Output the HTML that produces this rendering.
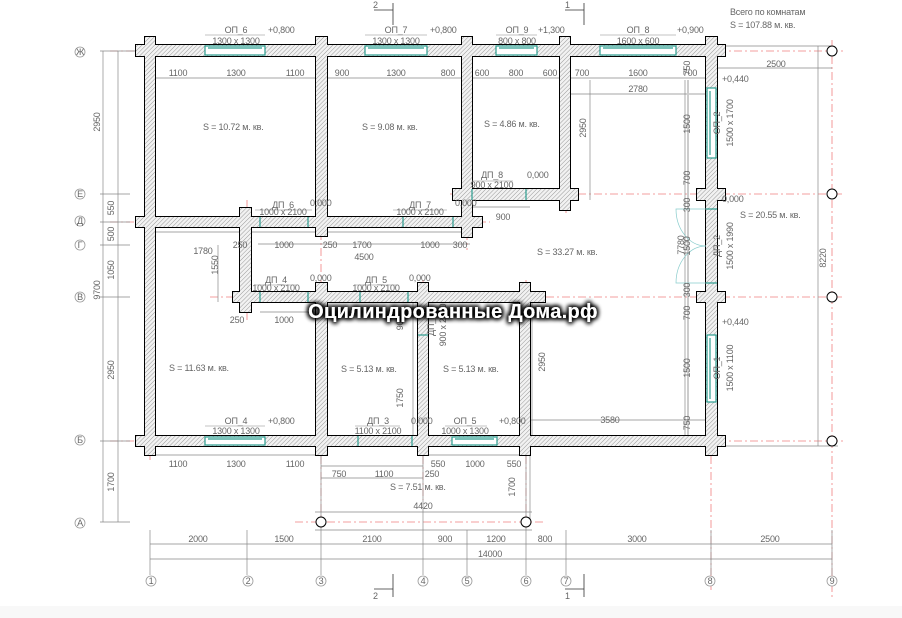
<!DOCTYPE html>
<html><head><meta charset="utf-8"><style>
html,body{margin:0;padding:0;background:#fff;}
svg{display:block;}
text{font-family:"Liberation Sans","DejaVu Sans",sans-serif;fill:#666;font-size:9px;letter-spacing:-0.2px;}
.wm{font-size:20px;font-weight:bold;fill:#fff;letter-spacing:0.3px;}
</style></head><body>
<svg width="902" height="618" viewBox="0 0 902 618" xmlns="http://www.w3.org/2000/svg">
<defs>
<pattern id="h" width="3" height="3" patternUnits="userSpaceOnUse" patternTransform="rotate(45)">
<rect width="3" height="3" fill="#f2f2f2"/><line x1="0" y1="0" x2="0" y2="3" stroke="#999" stroke-width="1"/>
</pattern>
<filter id="sh" x="-10%" y="-60%" width="120%" height="220%">
<feMorphology in="SourceAlpha" operator="dilate" radius="1" result="d"/>
<feGaussianBlur in="d" stdDeviation="2.5" result="b"/>
<feFlood flood-color="#000" flood-opacity="1"/><feComposite in2="b" operator="in" result="s"/>
<feMerge><feMergeNode in="s"/><feMergeNode in="s"/><feMergeNode in="SourceGraphic"/></feMerge>
</filter>
</defs>
<rect width="902" height="618" fill="#fff"/>
<rect y="606" width="902" height="12" fill="#f8f8f8"/>

<g stroke="#f08080" stroke-width="0.8" stroke-dasharray="8,3,2,3" fill="none">
<line x1="110" y1="51" x2="845" y2="51"/>
<line x1="450" y1="194" x2="845" y2="194"/>
<line x1="110" y1="222" x2="490" y2="222"/>
<line x1="210" y1="297" x2="845" y2="297"/>
<line x1="110" y1="441" x2="845" y2="441"/>
<line x1="295" y1="522" x2="545" y2="522"/>
<line x1="150" y1="40" x2="150" y2="460"/>
<line x1="247" y1="200" x2="247" y2="320"/>
<line x1="321" y1="40" x2="321" y2="530"/>
<line x1="423" y1="280" x2="423" y2="500"/>
<line x1="467" y1="40" x2="467" y2="250"/>
<line x1="526" y1="280" x2="526" y2="530"/>
<line x1="566" y1="40" x2="566" y2="215"/>
<line x1="711" y1="40" x2="711" y2="590"/>
<line x1="832" y1="40" x2="832" y2="600"/>
</g>

<g stroke="#888" stroke-width="0.7" fill="none">
<line x1="150" y1="78" x2="711" y2="78"/>
<line x1="566" y1="94" x2="711" y2="94"/>
<line x1="711" y1="68" x2="832" y2="68"/>
<line x1="711" y1="46" x2="832" y2="46"/>
<line x1="590" y1="80" x2="590" y2="200"/>
<line x1="118" y1="51" x2="118" y2="522"/>
<line x1="103" y1="51" x2="103" y2="522"/>
<line x1="100" y1="51" x2="150" y2="51"/><line x1="100" y1="194" x2="130" y2="194"/>
<line x1="100" y1="222" x2="130" y2="222"/><line x1="100" y1="245" x2="130" y2="245"/>
<line x1="100" y1="297" x2="130" y2="297"/><line x1="100" y1="441" x2="130" y2="441"/>
<line x1="100" y1="522" x2="130" y2="522"/>
<line x1="818" y1="46" x2="818" y2="446"/>
<line x1="711" y1="446" x2="838" y2="446"/>
<line x1="685" y1="80" x2="685" y2="436"/>
<line x1="688" y1="80" x2="688" y2="436" stroke="#ccc" stroke-width="2"/>
<line x1="150" y1="455" x2="321" y2="455"/><line x1="423" y1="455" x2="526" y2="455"/>
<line x1="321" y1="478" x2="423" y2="478"/>
<line x1="315" y1="512" x2="532" y2="512"/>
<line x1="315" y1="530" x2="532" y2="530"/>
<line x1="150" y1="544" x2="832" y2="544"/>
<line x1="150" y1="559" x2="832" y2="559"/>
<line x1="150" y1="530" x2="150" y2="575"/><line x1="247" y1="530" x2="247" y2="575"/>
<line x1="321" y1="455" x2="321" y2="575"/><line x1="423" y1="455" x2="423" y2="575"/>
<line x1="467" y1="530" x2="467" y2="575"/><line x1="526" y1="455" x2="526" y2="575"/>
<line x1="566" y1="530" x2="566" y2="575"/><line x1="711" y1="530" x2="711" y2="575"/>
<line x1="832" y1="530" x2="832" y2="575"/>
<line x1="155" y1="232" x2="470" y2="232"/>
<line x1="258" y1="244" x2="470" y2="244"/>
<line x1="260" y1="312" x2="418" y2="312"/>
<line x1="470" y1="207" x2="530" y2="207"/>
<line x1="530" y1="420" x2="706" y2="420"/>
<line x1="413" y1="302" x2="413" y2="436"/>
<line x1="532" y1="302" x2="532" y2="436"/>
<line x1="218" y1="245" x2="218" y2="302"/>
<line x1="321" y1="466" x2="423" y2="466"/>
<line x1="530" y1="455" x2="530" y2="520"/>
</g>

<g fill="#000" stroke="#000" stroke-width="2">
<rect x="136" y="45" width="589" height="11"/>
<rect x="453" y="189" width="125" height="11"/>
<rect x="136" y="217" width="346" height="10"/>
<rect x="233" y="292" width="312" height="10"/>
<rect x="136" y="436" width="589" height="10"/>
<rect x="145" y="37" width="10" height="418"/>
<rect x="316" y="37" width="11" height="199"/>
<rect x="316" y="283" width="11" height="172"/>
<rect x="462" y="37" width="10" height="200"/>
<rect x="560" y="37" width="10" height="173"/>
<rect x="706" y="37" width="11" height="418"/>
<rect x="240" y="208" width="11" height="104"/>
<rect x="418" y="283" width="10" height="172"/>
<rect x="520" y="283" width="10" height="172"/>
<rect x="697" y="189" width="28" height="11"/>
<rect x="697" y="292" width="28" height="10"/>
</g>
<g fill="url(#h)">
<rect x="136" y="45" width="589" height="11"/>
<rect x="453" y="189" width="125" height="11"/>
<rect x="136" y="217" width="346" height="10"/>
<rect x="233" y="292" width="312" height="10"/>
<rect x="136" y="436" width="589" height="10"/>
<rect x="145" y="37" width="10" height="418"/>
<rect x="316" y="37" width="11" height="199"/>
<rect x="316" y="283" width="11" height="172"/>
<rect x="462" y="37" width="10" height="200"/>
<rect x="560" y="37" width="10" height="173"/>
<rect x="706" y="37" width="11" height="418"/>
<rect x="240" y="208" width="11" height="104"/>
<rect x="418" y="283" width="10" height="172"/>
<rect x="520" y="283" width="10" height="172"/>
<rect x="697" y="189" width="28" height="11"/>
<rect x="697" y="292" width="28" height="10"/>
</g>

<g fill="#fff" stroke="#2a9d8f" stroke-width="1.2">
<rect x="205" y="46" width="60" height="9"/>
<rect x="365" y="46" width="62" height="9"/>
<rect x="496" y="46" width="41" height="9"/>
<rect x="600" y="46" width="76" height="9"/>
<rect x="205" y="437" width="60" height="8"/>
<rect x="452" y="437" width="45" height="8"/>
<rect x="707" y="88" width="9" height="70"/>
<rect x="707" y="335" width="9" height="67"/>
</g>
<g stroke="#2a9d8f" stroke-width="1.2">
<line x1="208" y1="48" x2="262" y2="48"/><line x1="368" y1="48" x2="424" y2="48"/>
<line x1="499" y1="48" x2="534" y2="48"/><line x1="603" y1="48" x2="673" y2="48"/>
<line x1="208" y1="439" x2="262" y2="439"/><line x1="455" y1="439" x2="494" y2="439"/>
<line x1="710" y1="91" x2="710" y2="155"/><line x1="710" y1="338" x2="710" y2="399"/>
<line x1="260" y1="217" x2="260" y2="227"/><line x1="308" y1="217" x2="308" y2="227"/>
<line x1="403" y1="217" x2="403" y2="227"/><line x1="453" y1="217" x2="453" y2="227"/>
<line x1="472" y1="189" x2="472" y2="200"/><line x1="526" y1="189" x2="526" y2="200"/>
<line x1="260" y1="292" x2="260" y2="302"/><line x1="308" y1="292" x2="308" y2="302"/>
<line x1="360" y1="292" x2="360" y2="302"/><line x1="408" y1="292" x2="408" y2="302"/>
<line x1="358" y1="436" x2="358" y2="446"/><line x1="412" y1="436" x2="412" y2="446"/>
<line x1="418" y1="335" x2="428" y2="335"/>
<line x1="706" y1="209" x2="717" y2="209"/><line x1="706" y1="283" x2="717" y2="283"/>
</g>
<g stroke="#8cc" stroke-width="0.7" fill="none">
<path d="M706 209 L676 209 A30 37 0 0 0 706 246"/>
<path d="M706 283 L676 283 A30 37 0 0 1 706 246"/>
</g>

<g fill="#fff" stroke="#000" stroke-width="1">
<circle cx="832" cy="51" r="5"/><circle cx="832" cy="194" r="5"/>
<circle cx="832" cy="297" r="5"/><circle cx="832" cy="441" r="5"/>
<circle cx="321" cy="522" r="5"/><circle cx="526" cy="522" r="5"/>
</g>
<g fill="#fff" stroke="#999" stroke-width="0.8">
<circle cx="80" cy="52" r="5"/><circle cx="80" cy="194" r="5"/><circle cx="80" cy="221" r="5"/>
<circle cx="80" cy="245" r="5"/><circle cx="80" cy="297" r="5"/><circle cx="80" cy="440" r="5"/>
<circle cx="80" cy="523" r="5"/>
<circle cx="151" cy="581" r="5"/><circle cx="248" cy="581" r="5"/><circle cx="321" cy="581" r="5"/>
<circle cx="423" cy="581" r="5"/><circle cx="467" cy="581" r="5"/><circle cx="526" cy="581" r="5"/>
<circle cx="566" cy="581" r="5"/><circle cx="710" cy="581" r="5"/><circle cx="832" cy="581" r="5"/>
</g>
<g text-anchor="middle" style="font-size:7px">
<text x="80" y="55">Ж</text><text x="80" y="197">Е</text><text x="80" y="224">Д</text>
<text x="80" y="248">Г</text><text x="80" y="300">В</text><text x="80" y="443">Б</text><text x="80" y="526">А</text>
<text x="151" y="584">1</text><text x="248" y="584">2</text><text x="321" y="584">3</text>
<text x="423" y="584">4</text><text x="467" y="584">5</text><text x="526" y="584">6</text>
<text x="566" y="584">7</text><text x="710" y="584">8</text><text x="832" y="584">9</text>
</g>

<g stroke="#333" stroke-width="0.8">
<line x1="393" y1="3" x2="393" y2="25"/><line x1="374" y1="10" x2="393" y2="10"/>
<line x1="584" y1="3" x2="584" y2="25"/><line x1="565" y1="10" x2="584" y2="10"/>
<line x1="393" y1="574" x2="393" y2="597"/><line x1="374" y1="589" x2="393" y2="589"/>
<line x1="584" y1="574" x2="584" y2="597"/><line x1="565" y1="589" x2="584" y2="589"/>
</g>
<text x="373" y="8">2</text><text x="565" y="8">1</text>
<text x="373" y="599">2</text><text x="565" y="599">1</text>

<g text-anchor="middle">
<text x="178" y="76">1100</text><text x="236" y="76">1300</text><text x="295" y="76">1100</text>
<text x="342" y="76">900</text><text x="396" y="76">1300</text><text x="448" y="76">800</text>
<text x="482" y="76">600</text><text x="516" y="76">800</text><text x="550" y="76">600</text>
<text x="582" y="76">700</text><text x="638" y="76">1600</text><text x="690" y="76">700</text>
<text x="776" y="67">2500</text><text x="638" y="92">2780</text>
<text x="203" y="254">1780</text><text x="240" y="248">250</text><text x="284" y="248">1000</text>
<text x="330" y="248">250</text><text x="362" y="248">1700</text><text x="430" y="248">1000</text><text x="460" y="248">300</text>
<text x="364" y="260">4500</text><text x="503" y="220">900</text>
<text x="237" y="323">250</text><text x="284" y="323">1000</text>
<text x="610" y="423">3580</text>
<text x="178" y="467">1100</text><text x="236" y="467">1300</text><text x="295" y="467">1100</text>
<text x="339" y="477">750</text><text x="384" y="477">1100</text><text x="432" y="477">250</text>
<text x="438" y="467">550</text><text x="475" y="467">1000</text><text x="514" y="467">550</text>
<text x="423" y="509">4420</text>
<text x="198" y="542">2000</text><text x="284" y="542">1500</text><text x="372" y="542">2100</text>
<text x="445" y="542">900</text><text x="496" y="542">1200</text><text x="545" y="542">800</text>
<text x="637" y="542">3000</text><text x="770" y="542">2500</text><text x="490" y="557">14000</text>
</g>
<g text-anchor="middle">
<text transform="translate(100,122) rotate(-90)">2950</text>
<text transform="translate(114,208) rotate(-90)">550</text>
<text transform="translate(114,234) rotate(-90)">500</text>
<text transform="translate(114,270) rotate(-90)">1050</text>
<text transform="translate(100,290) rotate(-90)">9700</text>
<text transform="translate(114,370) rotate(-90)">2950</text>
<text transform="translate(114,482) rotate(-90)">1700</text>
<text transform="translate(218,265) rotate(-90)">1550</text>
<text transform="translate(586,128) rotate(-90)">2950</text>
<text transform="translate(545,362) rotate(-90)">2950</text>
<text transform="translate(403,323) rotate(-90)">900</text>
<text transform="translate(403,398) rotate(-90)">1750</text>
<text transform="translate(515,487) rotate(-90)">1700</text>
<text transform="translate(684,245) rotate(-90)">7780</text>
<text transform="translate(690,124) rotate(-90)">1500</text>
<text transform="translate(690,178) rotate(-90)">700</text>
<text transform="translate(690,205) rotate(-90)">300</text>
<text transform="translate(690,246) rotate(-90)">1500</text>
<text transform="translate(690,290) rotate(-90)">300</text>
<text transform="translate(690,313) rotate(-90)">700</text>
<text transform="translate(690,368) rotate(-90)">1500</text>
<text transform="translate(690,423) rotate(-90)">750</text>
<text transform="translate(690,68) rotate(-90)">750</text>
<text transform="translate(826,258) rotate(-90)">8220</text>
<text transform="translate(720,123) rotate(-90)">ОП_2</text>
<text transform="translate(733,123) rotate(-90)">1500 x 1700</text>
<text transform="translate(720,246) rotate(-90)">ДП_2</text>
<text transform="translate(733,246) rotate(-90)">1500 x 1990</text>
<text transform="translate(720,368) rotate(-90)">ОП_1</text>
<text transform="translate(733,368) rotate(-90)">1500 x 1100</text>
<text transform="translate(434,325) rotate(-90)">ДП_1</text>
<text transform="translate(446,325) rotate(-90)">900 x 2100</text>
</g>

<g text-anchor="middle">
<text x="236" y="33">ОП_6</text><text x="236" y="44">1300 x 1300</text>
<text x="396" y="33">ОП_7</text><text x="396" y="44">1300 x 1300</text>
<text x="517" y="33">ОП_9</text><text x="517" y="44">800 x 800</text>
<text x="638" y="33">ОП_8</text><text x="638" y="44">1600 x 600</text>
<text x="283" y="208">ДП_6</text><text x="283" y="215">1000 x 2100</text>
<text x="420" y="208">ДП_7</text><text x="420" y="215">1000 x 2100</text>
<text x="492" y="178">ДП_8</text><text x="492" y="188">900 x 2100</text>
<text x="276" y="283">ДП_4</text><text x="276" y="291">1000 x 2100</text>
<text x="376" y="283">ДП_5</text><text x="376" y="291">1000 x 2100</text>
<text x="236" y="424">ОП_4</text><text x="236" y="434">1300 x 1300</text>
<text x="378" y="424">ДП_3</text><text x="378" y="434">1100 x 2100</text>
<text x="465" y="424">ОП_5</text><text x="465" y="434">1000 x 1300</text>
</g>
<g>
<text x="268" y="33">+0,800</text><text x="430" y="33">+0,800</text><text x="538" y="33">+1,300</text>
<text x="677" y="33">+0,900</text><text x="722" y="82">+0,440</text><text x="722" y="202">0,000</text>
<text x="722" y="325">+0,440</text><text x="310" y="206">0,000</text><text x="455" y="206">0,000</text>
<text x="527" y="178">0,000</text><text x="310" y="281">0,000</text><text x="409" y="281">0,000</text>
<text x="268" y="424">+0,800</text><text x="411" y="424">0,000</text><text x="499" y="424">+0,800</text>
</g>
<g stroke="#888" stroke-width="0.6">
<line x1="205" y1="35" x2="265" y2="35"/><line x1="365" y1="35" x2="427" y2="35"/>
<line x1="496" y1="35" x2="537" y2="35"/><line x1="600" y1="35" x2="676" y2="35"/>
<line x1="255" y1="210" x2="312" y2="210"/><line x1="393" y1="210" x2="447" y2="210"/>
<line x1="472" y1="181" x2="513" y2="181"/><line x1="255" y1="285" x2="297" y2="285"/>
<line x1="355" y1="285" x2="398" y2="285"/><line x1="205" y1="426" x2="265" y2="426"/>
<line x1="355" y1="426" x2="400" y2="426"/><line x1="445" y1="426" x2="487" y2="426"/>
</g>

<g>
<text x="203" y="130">S   = 10.72 м. кв.</text>
<text x="362" y="130">S   = 9.08 м. кв.</text>
<text x="484" y="127">S   = 4.86 м. кв.</text>
<text x="537" y="255">S   = 33.27 м. кв.</text>
<text x="740" y="218">S = 20.55 м. кв.</text>
<text x="169" y="371">S   = 11.63 м. кв.</text>
<text x="341" y="372">S   = 5.13 м. кв.</text>
<text x="443" y="372">S   = 5.13 м. кв.</text>
<text x="390" y="490">S = 7.51 м. кв.</text>
<text x="730" y="15">Всего по комнатам</text>
<text x="730" y="28">S   =   107.88 м. кв.</text>
</g>

<text class="wm" x="453" y="318" text-anchor="middle" filter="url(#sh)">Оцилиндрованные Дома.рф</text>
</svg>
</body></html>
